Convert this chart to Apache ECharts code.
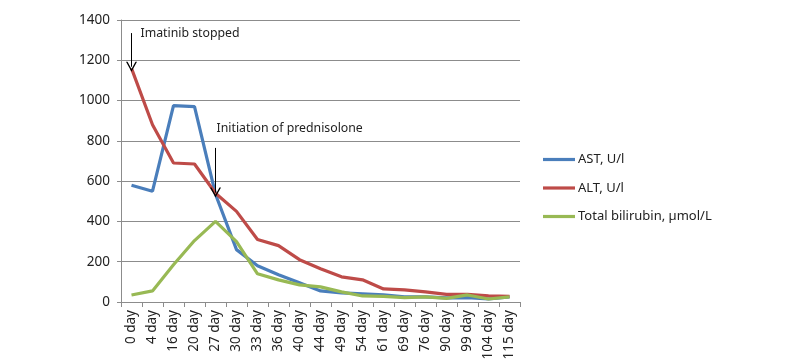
<!DOCTYPE html>
<html>
<head>
<meta charset="utf-8">
<script src="https://cdn.jsdelivr.net/npm/echarts@6/dist/echarts.min.js"></script>
<style>
  html, body { margin: 0; padding: 0; background: #fff; }
  #main { width: 800px; height: 364px; }
</style>
</head>
<body>
<div id="main"></div>
<script>
// days of follow-up
var days = ['0 day', '4 day', '16 day', '20 day', '27 day', '30 day', '33 day', '36 day', '40 day', '44 day',
    '49 day', '54 day', '61 day', '69 day', '76 day', '90 day', '99 day', '104 day', '115 day'];
var ast = [580, 550, 975, 970, 535, 260, 180, 135, 95, 55, 45, 40, 35, 25, 25, 20, 22, 15, 25];
var alt = [1160, 880, 690, 685, 540, 450, 310, 280, 210, 165, 125, 110, 65, 60, 50, 38, 38, 30, 28];
var bili = [35, 55, 185, 305, 400, 300, 140, 110, 85, 75, 50, 30, 28, 22, 25, 18, 35, 15, 25];
var yTicks = [0, 200, 400, 600, 800, 1000, 1200, 1400];

var font = 'Noto Sans';
var chevron = 'path://M5,0 L10,8 L8.6,8 L5,2.2 L1.4,8 L0,8 Z';
var lineIcon = 'path://M0,0 H32 V3.2 H0 Z';

var myChart = echarts.init(document.getElementById('main'));

var option = {
    backgroundColor: '#fff',
    animation: false,
    textStyle: { fontFamily: font },
    grid: { left: 121, right: 280, top: 20, bottom: 62 },
    legend: {
        orient: 'vertical',
        left: 543,
        top: 153,
        padding: 0,
        itemWidth: 32,
        itemHeight: 14,
        itemGap: 15.5,
        textStyle: { fontSize: 13, color: '#222', fontFamily: font, padding: [0, 0, 0, -2] },
        data: [
            { name: 'AST, U/l', icon: lineIcon },
            { name: 'ALT, U/l', icon: lineIcon },
            { name: 'Total bilirubin, µmol/L', icon: lineIcon }
        ]
    },
    xAxis: {
        type: 'category',
        data: days,
        boundaryGap: true,
        axisLine: { lineStyle: { color: '#8c8c8c', width: 1 } },
        axisTick: { show: true, length: 5, lineStyle: { color: '#8c8c8c' } },
        axisLabel: { rotate: 90, interval: 0, color: '#222', fontSize: 13.5, margin: 8 }
    },
    yAxis: {
        type: 'value',
        min: yTicks[0],
        max: yTicks[yTicks.length - 1],
        interval: 200,
        axisLine: { show: true, lineStyle: { color: '#8c8c8c', width: 1 } },
        axisTick: { show: true, length: 4, lineStyle: { color: '#8c8c8c' } },
        axisLabel: { color: '#222', fontSize: 13.5, margin: 11, formatter: function (v) { return String(v); } },
        splitLine: { show: true, lineStyle: { color: '#8c8c8c', width: 1 } }
    },
    series: [{
        name: 'AST, U/l',
        type: 'line',
        data: ast,
        symbol: 'none',
        color: '#4a7ebb',
        lineStyle: { width: 3.2 }
    }, {
        name: 'ALT, U/l',
        type: 'line',
        data: alt,
        symbol: 'none',
        color: '#be4b48',
        lineStyle: { width: 3.2 },
        // arrows for the two events
        markLine: {
            silent: true,
            symbol: ['none', chevron],
            symbolSize: [11, 10],
            lineStyle: { color: '#000', width: 1, type: 'solid' },
            label: { show: false },
            data: [
                [{ coord: ['0 day', 1335] }, { coord: ['0 day', 1168] }],
                [{ coord: ['27 day', 765] }, { coord: ['27 day', 543] }]
            ]
        },
        markPoint: {
            silent: true,
            symbol: 'circle',
            symbolSize: 0,
            label: { show: true, position: 'right', color: '#222', fontSize: 12.3, fontFamily: font },
            data: [
                { coord: ['0 day', 1335], label: { formatter: 'Imatinib stopped', distance: 9 } },
                { coord: ['27 day', 862], label: { formatter: 'Initiation of prednisolone', distance: 1 } }
            ]
        }
    }, {
        name: 'Total bilirubin, µmol/L',
        type: 'line',
        data: bili,
        symbol: 'none',
        color: '#98b954',
        lineStyle: { width: 3.2 }
    }]
};
myChart.setOption(option);
</script>
</body>
</html>
